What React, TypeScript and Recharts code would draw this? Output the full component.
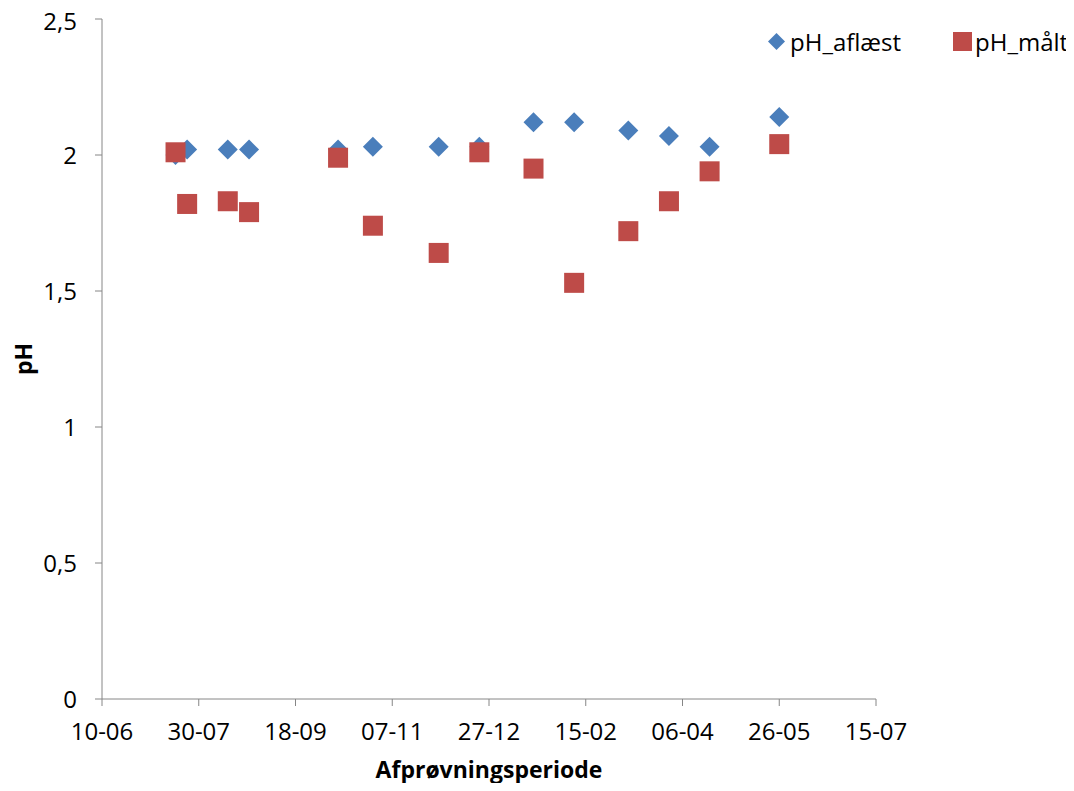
import { ScatterChart, Scatter, XAxis, YAxis } from "recharts";

// sampling dates (dd-mm-yyyy)
const sampleDates = [
    "18-07-2012", "24-07-2012", "14-08-2012", "25-08-2012", "10-10-2012", "28-10-2012", "01-12-2012",
    "22-12-2012", "19-01-2013", "09-02-2013", "09-03-2013", "30-03-2013", "20-04-2013", "26-05-2013",
];
const phAflaest = [2.0, 2.02, 2.02, 2.02, 2.02, 2.03, 2.03, 2.03, 2.12, 2.12, 2.09, 2.07, 2.03, 2.14];
const phMaalt = [2.01, 1.82, 1.83, 1.79, 1.99, 1.74, 1.64, 2.01, 1.95, 1.53, 1.72, 1.83, 1.94, 2.04];

const xTickLabels = ["10-06-2012", "30-07-2012", "18-09-2012", "07-11-2012", "27-12-2012", "15-02-2013", "06-04-2013", "26-05-2013", "15-07-2013"];
const yTicks = [0, 0.5, 1, 1.5, 2, 2.5];

const BLUE = "#4A7EBB";
const RED = "#BE4B48";
const AXIS = "#868686";
const FONT = "'Open Sans', sans-serif";

const DAY = 86400000;
const toTime = (s: string) => {
    const [d, m, y] = s.split("-").map(Number);
    return Date.UTC(y, m - 1, d);
};
const origin = toTime(xTickLabels[0]);
const toDay = (s: string) => Math.round((toTime(s) - origin) / DAY);
const fmtDay = (v: number) => {
    const dt = new Date(origin + v * DAY);
    const dd = String(dt.getUTCDate()).padStart(2, "0");
    const mm = String(dt.getUTCMonth() + 1).padStart(2, "0");
    return `${dd}-${mm}`;
};

const xTicks = xTickLabels.map(toDay);
const aflaestData = sampleDates.map((d, i) => ({ x: toDay(d), y: phAflaest[i] }));
const maaltData = sampleDates.map((d, i) => ({ x: toDay(d), y: phMaalt[i] }));

const Diamond = (props: any) => {
    const { cx, cy } = props;
    const r = 10;
    return <polygon points={`${cx},${cy - r} ${cx + r},${cy} ${cx},${cy + r} ${cx - r},${cy}`} fill={BLUE} />;
};

const Square = (props: any) => {
    const { cx, cy } = props;
    const s = 20;
    return <rect x={cx - s / 2} y={cy - s / 2} width={s} height={s} fill={RED} />;
};

const titleStyle = { fontFamily: FONT, fontSize: 23, fontWeight: 700, fill: "#000" };

// legend drawn over the top-right corner so it doesn't shrink the plot
const ChartLegend = () => (
    <div
        style={{
            position: "absolute",
            top: 17,
            left: 760,
            display: "flex",
            alignItems: "center",
            fontFamily: FONT,
            fontSize: 24,
            color: "#000",
        }}
    >
        <svg width={17} height={17} style={{ marginRight: 5 }}>
            <polygon points="8.5,0 17,8.5 8.5,17 0,8.5" fill={BLUE} />
        </svg>
        <span style={{ marginRight: 52 }}>pH_aflæst</span>
        <svg width={19} height={19} style={{ marginRight: 3 }}>
            <rect x={0} y={0} width={19} height={19} fill={RED} />
        </svg>
        <span>pH_målt</span>
    </div>
);

export default function App() {
    return (
        <div style={{ position: "relative", width: 1060, height: 775 }}>
            <ScatterChart width={1060} height={775} margin={{ top: 11, right: 192, left: 0, bottom: 0 }}>
                <XAxis
                    type="number"
                    dataKey="x"
                    domain={[xTicks[0], xTicks[xTicks.length - 1]]}
                    ticks={xTicks}
                    tickFormatter={fmtDay}
                    stroke={AXIS}
                    tickSize={7}
                    tickMargin={17}
                    height={84}
                    tick={{ fill: "#000", fontSize: 24, fontFamily: FONT }}
                    label={{
                        content: ({ viewBox }: any) => (
                            <text
                                x={viewBox.x + viewBox.width / 2}
                                y={viewBox.y + 70}
                                textAnchor="middle"
                                dominantBaseline="central"
                                style={titleStyle}
                            >
                                Afprøvningsperiode
                            </text>
                        ),
                    }}
                />
                <YAxis
                    type="number"
                    dataKey="y"
                    domain={[0, 2.5]}
                    ticks={yTicks}
                    tickFormatter={(v: number) => String(v).replace(".", ",")}
                    stroke={AXIS}
                    tickSize={7}
                    tickMargin={18}
                    width={94}
                    tick={{ fill: "#000", fontSize: 24, fontFamily: FONT }}
                    label={{
                        content: ({ viewBox }: any) => {
                            const lx = viewBox.x + 15;
                            const ly = viewBox.y + viewBox.height / 2;
                            return (
                                <text
                                    x={lx}
                                    y={ly}
                                    transform={`rotate(-90, ${lx}, ${ly})`}
                                    textAnchor="middle"
                                    dominantBaseline="central"
                                    style={titleStyle}
                                >
                                    pH
                                </text>
                            );
                        },
                    }}
                />
                <Scatter name="pH_aflæst" data={aflaestData} shape={<Diamond />} isAnimationActive={false} />
                <Scatter name="pH_målt" data={maaltData} shape={<Square />} isAnimationActive={false} />
            </ScatterChart>
            <ChartLegend />
        </div>
    );
}
